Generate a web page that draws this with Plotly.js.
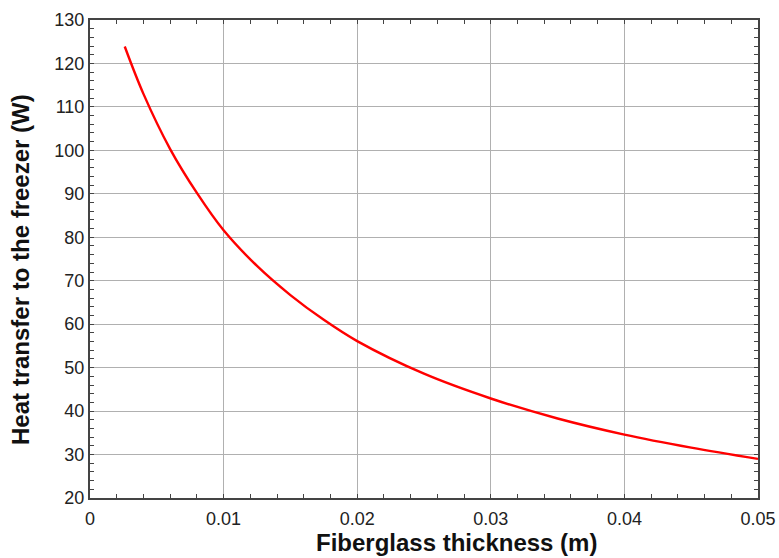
<!DOCTYPE html>
<html>
<head>
<meta charset="utf-8">
<script src="https://cdn.plot.ly/plotly-3.0.1.min.js"></script>
<style>html,body{margin:0;padding:0;background:#fff;}#chart{width:779px;height:558px;}</style>
</head>
<body>
<div id="chart"></div>
<script>
// Fiberglass thickness (m)
const thickness = [0.0026, 0.004, 0.006, 0.008, 0.010, 0.0125, 0.015, 0.0175, 0.020, 0.025, 0.030, 0.035, 0.040, 0.045, 0.050];
// Heat transfer to the freezer (W)
const heatTransfer = [123.9, 113.0, 100.3, 90.2, 81.6, 73.4, 66.7, 61.0, 56.1, 48.6, 42.9, 38.3, 34.6, 31.6, 29.0];
const xTickVals = [0, 0.01, 0.02, 0.03, 0.04, 0.05];
const xTickText = ['0', '0.01', '0.02', '0.03', '0.04', '0.05'];
const xTitle = 'Fiberglass thickness (m)';
const yTitle = 'Heat transfer to the freezer (W)';

const FONT = 'Liberation Sans, Arial, sans-serif';
const trace = {
  x: thickness, y: heatTransfer, type: 'scatter', mode: 'lines',
  line: {color: '#ff0000', width: 2.4, shape: 'spline', smoothing: 1},
  hoverinfo: 'skip'
};
const axisCommon = {
  showline: true, linecolor: '#444', linewidth: 2, mirror: 'ticks',
  showgrid: true, gridcolor: '#b0b0b0', gridwidth: 1, zeroline: false,
  ticks: 'inside', ticklen: 4, tickcolor: '#444', tickwidth: 1,
  tickfont: {family: FONT, size: 18, color: '#222'},
};
const layout = {
  width: 779, height: 558,
  margin: {l: 90, r: 21, t: 20, b: 60},
  paper_bgcolor: '#fff', plot_bgcolor: '#fff',
  showlegend: false,
  xaxis: Object.assign({}, axisCommon, {
    range: [0, 0.05], tickmode: 'array', tickvals: xTickVals, ticktext: xTickText,
    ticklabelstandoff: 3,
    minor: {dtick: 0.002, ticks: 'inside', ticklen: 4, tickcolor: '#444', showgrid: false}
  }),
  yaxis: Object.assign({}, axisCommon, {
    range: [20, 130], dtick: 10, tick0: 20,
    minor: {dtick: 2, ticks: 'inside', ticklen: 4, tickcolor: '#444', showgrid: false}
  }),
  annotations: [
    {text: '<b>' + xTitle + '</b>', xref: 'paper', yref: 'paper', x: 0.548, y: -0.094,
     xanchor: 'center', yanchor: 'middle', showarrow: false,
     font: {family: FONT, size: 24, color: '#111'}},
    {text: '<b>' + yTitle + '</b>', xref: 'paper', yref: 'paper', x: -0.1048, y: 0.479,
     xanchor: 'center', yanchor: 'middle', textangle: -90, showarrow: false,
     font: {family: FONT, size: 24, color: '#111'}}
  ]
};
Plotly.newPlot('chart', [trace], layout, {displayModeBar: false, staticPlot: true});
</script>
</body>
</html>
